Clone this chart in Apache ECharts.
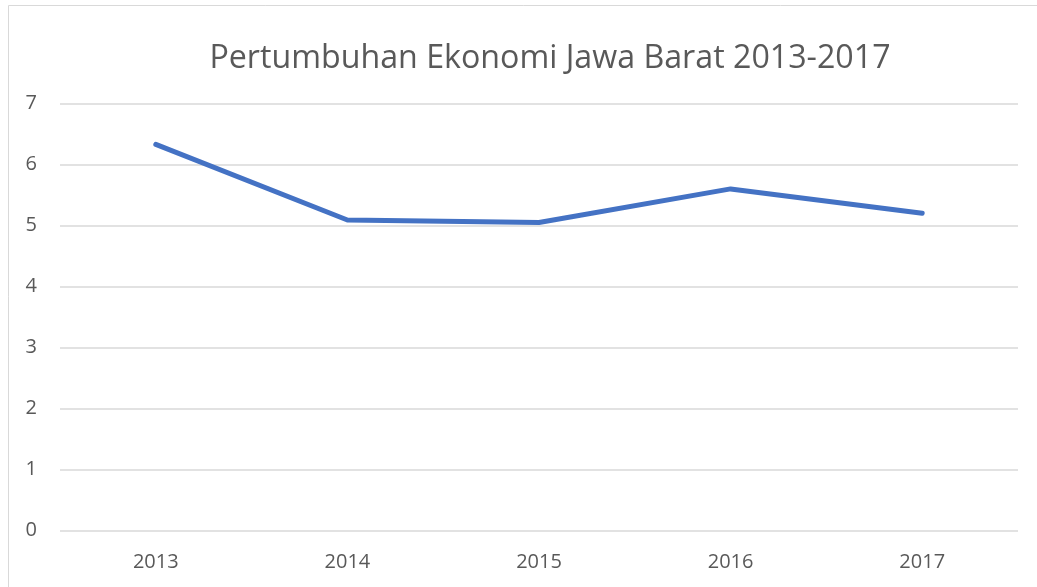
<!DOCTYPE html>
<html>
<head>
<meta charset="utf-8">
<script src="https://cdn.jsdelivr.net/npm/echarts@6/dist/echarts.min.js"></script>
<style>
  html, body { margin: 0; padding: 0; background: #fff; }
  #chart { width: 1037px; height: 587px; }
</style>
</head>
<body>
<div id="chart"></div>
<script>
const years = ['2013', '2014', '2015', '2016', '2017']
const growth = [6.33, 5.09, 5.05, 5.6, 5.2]

const chart = echarts.init(document.getElementById('chart'))

chart.setOption({
  animation: false,
  title: {
    text: 'Pertumbuhan Ekonomi Jawa Barat 2013-2017',
    left: 545,
    top: 38,
    textAlign: 'center',
    textStyle: { color: '#595959', fontSize: 32.2, fontWeight: 'normal', fontFamily: 'Open Sans' },
  },
  graphic: [{
    type: 'rect',
    shape: { x: 8.5, y: 5.5, width: 1040, height: 600 },
    style: { fill: 'none', stroke: '#d9d9d9', lineWidth: 1 },
    silent: true,
  }],
  grid: { left: 60, right: 19, top: 103.5, bottom: 56.5 },
  xAxis: {
    type: 'category',
    data: years,
    boundaryGap: true,
    axisLine: { show: false },
    axisTick: { show: false },
    axisLabel: { color: '#595959', fontSize: 20, margin: 22, fontFamily: 'Open Sans' },
  },
  yAxis: {
    type: 'value',
    min: 0,
    max: 7,
    interval: 1,
    axisLine: { show: false },
    axisTick: { show: false },
    axisLabel: { color: '#595959', fontSize: 20, margin: 23, fontFamily: 'Open Sans' },
    splitLine: { lineStyle: { color: '#d9d9d9', width: 1.5 } },
  },
  series: [{
    type: 'line',
    data: growth,
    symbol: 'none',
    lineStyle: { color: '#4472c4', width: 5, cap: 'round', join: 'round' },
  }],
})
</script>
</body>
</html>
